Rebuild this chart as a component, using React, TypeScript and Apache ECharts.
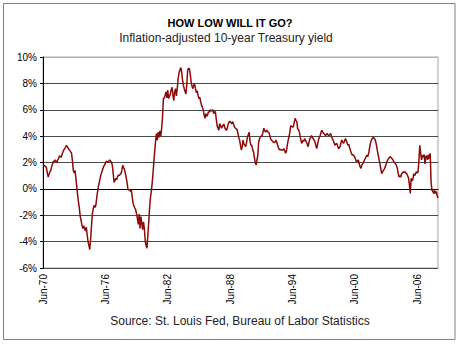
import React, { useEffect, useRef } from "react";
import * as echarts from "echarts";

// Monthly real 10-year Treasury yield (%), Jun-1970 onward, one row per 12 months
const yieldY01 = [1.85, 1.8, 1.75, 1.7, 1.6, 1.2, 0.9, 1.1, 1.3, 1.4, 1.7, 1.9];
const yieldY02 = [2.1, 2.05, 2.2, 2.1, 2.0, 2.2, 2.3, 2.5, 2.45, 2.4, 2.6, 2.8];
const yieldY03 = [2.95, 3.05, 3.15, 3.3, 3.2, 3.1, 3.0, 2.9, 2.8, 2.7, 2.1, 1.4];
const yieldY04 = [1.2, 1.4, 0.8, 0.15, -0.5, -1.0, -1.5, -2.1, -2.4, -2.75, -3.0, -2.8];
const yieldY05 = [-3.0, -3.2, -2.9, -3.5, -4.0, -4.3, -4.6, -3.8, -2.8, -1.9, -1.5, -1.25];
const yieldY06 = [-1.4, -1.25, -0.7, -0.2, 0.2, 0.5, 0.8, 1.1, 1.3, 1.5, 1.7, 1.8];
const yieldY07 = [1.95, 2.1, 2.05, 2.0, 2.1, 2.2, 2.1, 2.0, 1.8, 1.2, 0.5, 0.6];
const yieldY08 = [0.8, 0.7, 0.9, 1.05, 1.0, 1.1, 1.15, 1.4, 1.8, 1.6, 1.5, 1.2];
const yieldY09 = [0.9, 0.5, 0.0, -0.1, -0.05, -0.2, -0.1, -0.6, -1.1, -1.3, -1.45, -1.6];
const yieldY10 = [-1.9, -2.25, -2.7, -1.9, -3.0, -2.1, -2.6, -3.1, -2.5, -3.0, -3.9, -4.3];
const yieldY11 = [-4.5, -3.6, -2.6, -1.5, -0.7, -0.2, 0.4, 1.2, 2.05, 2.9, 3.6, 4.2];
const yieldY12 = [3.7, 4.3, 3.9, 4.4, 4.0, 4.6, 5.45, 6.85, 6.9, 7.1, 7.35, 6.9];
const yieldY13 = [7.5, 6.85, 7.0, 7.2, 7.5, 7.7, 7.1, 6.7, 7.35, 7.6, 7.05, 7.6];
const yieldY14 = [8.35, 8.8, 9.0, 9.2, 8.9, 8.3, 7.9, 7.6, 7.4, 7.2, 7.9, 9.0];
const yieldY15 = [9.15, 9.1, 8.7, 8.1, 7.8, 7.6, 7.85, 7.95, 7.6, 7.3, 7.45, 7.1];
const yieldY16 = [6.85, 6.95, 6.6, 6.35, 6.2, 6.0, 5.6, 5.35, 5.7, 5.5, 5.6, 5.85];
const yieldY17 = [5.8, 6.0, 5.9, 5.95, 6.0, 5.7, 5.85, 5.85, 5.3, 4.8, 4.6, 4.45];
const yieldY18 = [4.95, 4.8, 4.6, 4.7, 4.85, 4.9, 4.6, 4.5, 4.45, 4.7, 4.95, 5.1];
const yieldY19 = [5.1, 5.0, 4.95, 5.1, 4.9, 4.7, 4.6, 4.55, 4.5, 4.2, 3.9, 3.7];
const yieldY20 = [3.3, 2.95, 3.2, 3.7, 3.4, 3.3, 3.2, 3.5, 3.95, 4.1, 4.3, 3.6];
const yieldY21 = [3.3, 3.3, 3.0, 2.8, 2.4, 2.0, 1.8, 2.2, 2.55, 3.55, 3.8, 3.95];
const yieldY22 = [4.0, 4.05, 4.3, 4.6, 4.4, 4.3, 4.45, 4.4, 4.3, 4.25, 4.0, 3.75];
const yieldY23 = [3.7, 3.6, 3.55, 3.5, 3.55, 3.7, 3.5, 3.3, 3.1, 2.95, 3.0, 2.95];
const yieldY24 = [2.95, 2.95, 3.05, 2.9, 2.7, 2.85, 3.3, 3.7, 3.95, 4.3, 4.8, 4.75];
const yieldY25 = [4.7, 4.7, 5.0, 5.35, 5.2, 5.1, 4.55, 4.5, 4.3, 3.9, 3.6, 3.45];
const yieldY26 = [3.7, 3.6, 3.8, 3.7, 3.55, 3.4, 3.2, 3.5, 3.8, 3.9, 4.05, 3.9];
const yieldY27 = [3.8, 3.7, 3.55, 3.3, 3.05, 3.4, 3.7, 3.9, 4.05, 4.3, 4.45, 4.3];
const yieldY28 = [4.2, 4.15, 4.05, 4.1, 4.2, 4.1, 4.05, 4.1, 4.2, 4.0, 3.8, 3.7];
const yieldY29 = [3.5, 3.3, 3.4, 3.45, 3.3, 3.05, 3.1, 3.2, 3.5, 3.7, 3.55, 3.45];
const yieldY30 = [3.6, 3.8, 3.7, 3.5, 3.3, 3.4, 3.1, 2.9, 2.7, 2.55, 2.6, 2.5];
const yieldY31 = [2.4, 2.2, 2.05, 2.1, 2.2, 1.9, 1.7, 1.55, 1.8, 1.9, 2.0, 2.2];
const yieldY32 = [2.3, 2.45, 2.55, 2.45, 2.7, 3.1, 3.45, 3.7, 3.8, 3.9, 3.85, 3.8];
const yieldY33 = [3.6, 3.3, 2.9, 2.55, 2.2, 1.9, 1.5, 1.15, 1.3, 1.4, 1.5, 1.65];
const yieldY34 = [1.85, 2.05, 2.2, 2.3, 2.4, 2.45, 2.35, 2.3, 2.2, 2.05, 2.0, 1.9];
const yieldY35 = [1.75, 1.6, 1.2, 0.9, 1.0, 0.9, 1.15, 1.2, 1.3, 1.25, 1.3, 1.2];
const yieldY36 = [1.15, 1.0, 0.8, 0.3, -0.35, 0.8, 0.6, 0.7, 1.15, 1.0, 1.15, 1.3];
const yieldY37 = [1.2, 1.3, 2.2, 3.3, 2.7, 2.2, 2.55, 2.4, 2.6, 1.9, 2.45, 2.5];
const yieldY38 = [2.2, 2.6, 2.3, 2.7, 0.5, -0.1, -0.2, -0.35, -0.1, -0.35, -0.2, -0.5, -0.7];

const yieldValues: number[] = [
  ...yieldY01, ...yieldY02, ...yieldY03, ...yieldY04, ...yieldY05, ...yieldY06,
  ...yieldY07, ...yieldY08, ...yieldY09, ...yieldY10, ...yieldY11, ...yieldY12,
  ...yieldY13, ...yieldY14, ...yieldY15, ...yieldY16, ...yieldY17, ...yieldY18,
  ...yieldY19, ...yieldY20, ...yieldY21, ...yieldY22, ...yieldY23, ...yieldY24,
  ...yieldY25, ...yieldY26, ...yieldY27, ...yieldY28, ...yieldY29, ...yieldY30,
  ...yieldY31, ...yieldY32, ...yieldY33, ...yieldY34, ...yieldY35, ...yieldY36,
  ...yieldY37, ...yieldY38,
];

const monthNames = ["Jan", "Feb", "Mar", "Apr", "May", "Jun", "Jul", "Aug", "Sep", "Oct", "Nov", "Dec"];
const startYear = 1970;
const startMonth = 5; // June
const categories: string[] = yieldValues.map((_, i) => {
  const mIdx = startMonth + i;
  const y = startYear + Math.floor(mIdx / 12);
  const m = mIdx % 12;
  return `${monthNames[m]}-${String(y % 100).padStart(2, "0")}`;
});

const yTicks = { min: -6, max: 10, interval: 2 };

const titleText = "HOW LOW WILL IT GO?";
const subtitleText = "Inflation-adjusted 10-year Treasury yield";
const sourceText = "Source: St. Louis Fed, Bureau of Labor Statistics";

export default function App() {
  const ref = useRef<HTMLDivElement>(null);
  useEffect(() => {
    if (!ref.current) return;
    const chart = echarts.init(ref.current, undefined, { renderer: "svg" });
    const font = "'Liberation Sans', Arial, sans-serif";
    const dark = "#4a4a4a";
    chart.setOption({
      animation: false,
      backgroundColor: "#ffffff",
      textStyle: { fontFamily: font },
      graphic: [
        {
          type: "rect",
          shape: { x: 3.5, y: 3.5, width: 451.5, height: 336 },
          style: { fill: "none", stroke: "#808080", lineWidth: 1 },
          silent: true,
        },
        {
          type: "text",
          x: 230,
          y: 23,
          style: {
            text: titleText,
            fontFamily: font,
            fontSize: 11,
            fontWeight: "bold",
            fill: "#000",
            align: "center",
            verticalAlign: "middle",
          },
        },
        {
          type: "text",
          x: 226,
          y: 38,
          style: {
            text: subtitleText,
            fontFamily: font,
            fontSize: 12,
            fill: "#222",
            align: "center",
            verticalAlign: "middle",
          },
        },
        {
          type: "text",
          x: 240,
          y: 321,
          style: {
            text: sourceText,
            fontFamily: font,
            fontSize: 12,
            fill: "#222",
            align: "center",
            verticalAlign: "middle",
          },
        },
      ],
      grid: {
        left: 43,
        right: 22,
        top: 57,
        bottom: 77,
        show: true,
        borderColor: "#a8a8a8",
        borderWidth: 1,
      },
      xAxis: {
        type: "category",
        data: categories,
        boundaryGap: false,
        axisLine: { show: true, lineStyle: { color: "#000", width: 1 } },
        axisTick: { show: false },
        axisLabel: {
          interval: 71,
          rotate: 90,
          fontSize: 10,
          color: "#000",
          margin: 6,
          fontFamily: font,
        },
        splitLine: { show: false },
      },
      yAxis: {
        type: "value",
        min: yTicks.min,
        max: yTicks.max,
        interval: yTicks.interval,
        axisLine: { show: true, lineStyle: { color: "#000", width: 1 } },
        axisTick: { show: true, length: 3, lineStyle: { color: "#000" } },
        axisLabel: {
          formatter: (v: number) => `${v}%`,
          fontSize: 10,
          color: "#000",
          margin: 6,
          fontFamily: font,
        },
        splitLine: {
          show: true,
          lineStyle: {
            color: [dark, dark, dark, dark, dark, dark, dark, dark, "#b0b0b0"],
            width: 1,
          },
        },
      },
      series: [
        {
          type: "line",
          data: yieldValues,
          showSymbol: false,
          symbol: "none",
          lineStyle: { color: "#8b0a0a", width: 1.5 },
        },
      ],
    });
    return () => chart.dispose();
  }, []);
  return (
    <div
      ref={ref}
      style={{ position: "absolute", left: 0, top: 0, width: 460, height: 345 }}
    />
  );
}
